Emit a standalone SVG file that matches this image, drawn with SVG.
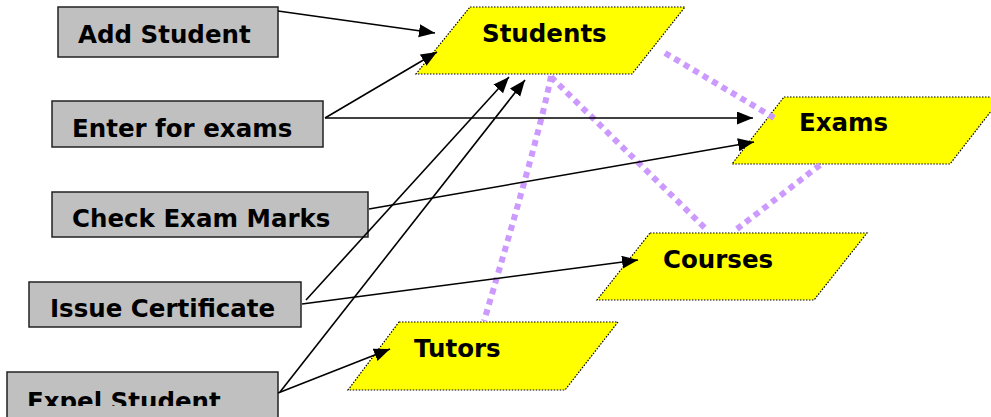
<svg xmlns="http://www.w3.org/2000/svg" width="991" height="417" viewBox="0 0 991 417">
<style>
.box{fill:#c0c0c0;stroke:#222;stroke-width:1.5}
.ent{fill:#ffff00;stroke:#000;stroke-width:1.2;stroke-dasharray:1.5 1.5}
.t{font-family:"DejaVu Sans","Verdana",sans-serif;font-weight:bold;font-size:24.5px;fill:#000}
.arr{stroke:#000;stroke-width:1.6;fill:none;marker-end:url(#ah)}
.dot{stroke:#cc99ff;stroke-width:6;stroke-dasharray:6 5;fill:none}
</style>
<defs>
<marker id="ah" markerUnits="userSpaceOnUse" markerWidth="17" markerHeight="14" refX="16" refY="6.5" orient="auto">
<path d="M0,0 L16,6.5 L0,13 z" fill="#000"/>
</marker>
<clipPath id="clipExpel"><rect x="7" y="372" width="271" height="34"/></clipPath>
</defs>
<rect width="991" height="417" fill="#fff"/>
<g id="add-student"><rect class="box" x="58" y="7" width="220" height="50"/><text class="t" x="78" y="43">Add Student</text></g>
<g id="enter-for-exams"><rect class="box" x="52" y="101" width="271" height="46"/><text class="t" x="72" y="137">Enter for exams</text></g>
<g id="check-exam-marks"><rect class="box" x="52" y="192" width="316" height="45"/><text class="t" x="72" y="227">Check Exam Marks</text></g>
<g id="issue-certificate"><rect class="box" x="29" y="282" width="272" height="45"/><text class="t" x="50" y="317">Issue Certificate</text></g>
<g id="expel-student"><rect class="box" x="7" y="372" width="271" height="60"/><text class="t" x="27" y="410" clip-path="url(#clipExpel)">Expel Student</text></g>
<g id="students"><polygon class="ent" points="470,7 685,7 632,74 416,74"/><text class="t" x="482" y="42">Students</text></g>
<g id="exams"><polygon class="ent" points="784,97 1002,97 950,164 732,164"/><text class="t" x="799" y="131">Exams</text></g>
<g id="courses"><polygon class="ent" points="650,233 867,233 814,300 597,300"/><text class="t" x="663" y="268">Courses</text></g>
<g id="tutors"><polygon class="ent" points="399,322 618,322 565,390 348,390"/><text class="t" x="414" y="357">Tutors</text></g>
<g id="connectors">
<path class="dot" d="M665,53 L776,119"/>
<path class="dot" d="M551,76 Q541,130 484,321"/>
<path class="dot" d="M551,77 L706,229"/>
<path class="dot" d="M820,165 L737,229"/>
<path class="arr" d="M278,11 L435,33"/>
<path class="arr" d="M325,118 L437,52"/>
<path class="arr" d="M325,118 L753,118"/>
<path class="arr" d="M369,209 L754,142"/>
<path class="arr" d="M306,300 L509,77"/>
<path class="arr" d="M302,304 L638,260"/>
<path class="arr" d="M278,393 L390,349"/>
<path class="arr" d="M280,392 L525,80"/>
</g>
</svg>
